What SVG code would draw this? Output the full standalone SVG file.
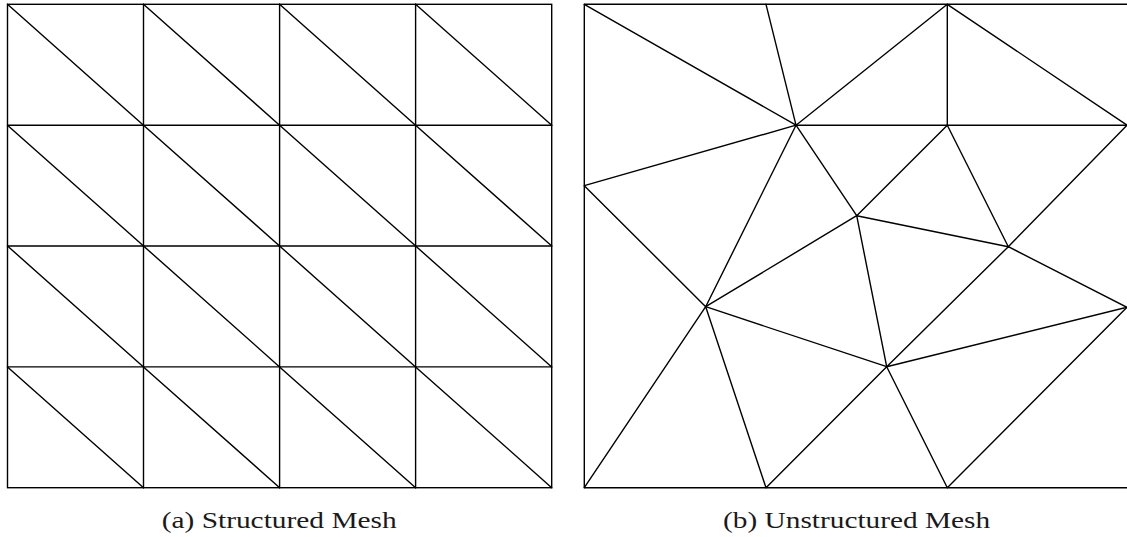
<svg xmlns="http://www.w3.org/2000/svg" width="1127" height="537" viewBox="0 0 1127 537">
<style>
.m{stroke:#000;stroke-width:1.4;fill:none;stroke-linecap:round}
.cap{font-family:"Liberation Serif",serif;font-size:24px;fill:#1a1a1a}
</style>
<rect width="1127" height="537" fill="#fff"/>
<g id="structured">
<g class="m">
<rect x="7.5" y="4.3" width="544.2" height="483.4"/>
<path d="M143.5 4.3V487.7M279.6 4.3V487.7M415.6 4.3V487.7"/>
<path d="M7.5 125.2H551.7M7.5 246H551.7M7.5 366.9H551.7"/>
<path d="M7.5 4.3L143.5 125.2M143.5 4.3L279.6 125.2M279.6 4.3L415.6 125.2M415.6 4.3L551.7 125.2"/>
<path d="M7.5 125.2L143.5 246M143.5 125.2L279.6 246M279.6 125.2L415.6 246M415.6 125.2L551.7 246"/>
<path d="M7.5 246L143.5 366.9M143.5 246L279.6 366.9M279.6 246L415.6 366.9M415.6 246L551.7 366.9"/>
<path d="M7.5 366.9L143.5 487.7M143.5 366.9L279.6 487.7M279.6 366.9L415.6 487.7M415.6 366.9L551.7 487.7"/>
</g>
</g>
<g id="unstructured">
<g class="m">
<path d="M584.3 4.3H1128M584.3 487.7H1128M584.3 4.3V487.7M1128 4.3V487.7"/>
<path d="M584.3 4.3L796 125.2M766 4.3L796 125.2M947.3 4.3L796 125.2M947.3 4.3V125.2M947.3 4.3L1127 125.2"/>
<path d="M796 125.2H1127"/>
<path d="M584.3 185.7L796 125.2M584.3 185.7L705.7 306.7M796 125.2L705.7 306.7M796 125.2L856.7 215.7"/>
<path d="M947.3 125.2L856.7 215.7M947.3 125.2L1008.3 246.7M1127 125.2L1008.3 246.7"/>
<path d="M856.7 215.7L1008.3 246.7M856.7 215.7L705.7 306.7M856.7 215.7L886.7 366.7"/>
<path d="M1008.3 246.7L886.7 366.7M1008.3 246.7L1127 307.3M705.7 306.7L886.7 366.7M886.7 366.7L1127 307.3"/>
<path d="M705.7 306.7L584.3 487.7M705.7 306.7L766 487.7M886.7 366.7L766 487.7M886.7 366.7L947.3 487.7M1127 307.3L947.3 487.7"/>
</g>
</g>
<g id="captions">
<text class="cap" x="279.2" y="528" text-anchor="middle" textLength="235" lengthAdjust="spacingAndGlyphs">(a) Structured Mesh</text>
<text class="cap" x="856.6" y="528" text-anchor="middle" textLength="267" lengthAdjust="spacingAndGlyphs">(b) Unstructured Mesh</text>
</g>
</svg>
